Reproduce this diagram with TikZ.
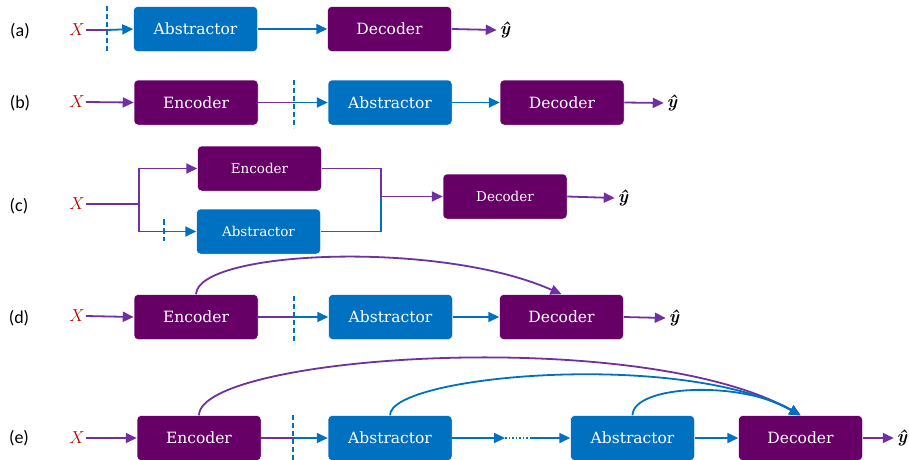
\documentclass[tikz,border=0pt]{standalone}
\usepackage{fontspec}
\usetikzlibrary{arrows.meta}
\newfontfamily\lblfont{Carlito}
\newfontfamily\boxfont{DejaVu Serif}
\definecolor{cblue}{HTML}{0070C0}
\definecolor{cbox}{HTML}{660066}
\definecolor{cline}{HTML}{7030A0}
\definecolor{cred}{HTML}{C00000}
\newcommand{\yhatsym}{{\bfseries\itshape ŷ}}
\tikzset{
  boxbase/.style={rounded corners=4pt, minimum width=124pt, minimum height=45pt, inner sep=0pt, text=white, font=\boxfont\fontsize{15.5}{18}\selectfont, draw=white, line width=0.5pt},
  smallbox/.style={font=\boxfont\fontsize{13.5}{16}\selectfont},
  encbox/.style={boxbase, fill=cbox},
  absbox/.style={boxbase, fill=cblue},
  pline/.style={draw=cline, line width=1.8pt},
  bline/.style={draw=cblue, line width=1.8pt},
  parrow/.style={pline, -{Triangle[length=11pt,width=10pt]}},
  barrow/.style={bline, -{Triangle[length=11pt,width=10pt]}},
  cut/.style={draw=cblue, line width=1.6pt, dash pattern=on 5pt off 3pt},
  rowlbl/.style={font=\lblfont\fontsize{18}{20}\selectfont, inner sep=0pt},
  xin/.style={text=cred, font=\fontsize{17}{20}\selectfont, inner sep=1pt},
  yout/.style={font=\fontsize{18}{20}\selectfont, inner sep=3pt}
}
\begin{document}
\begin{tikzpicture}[x=1pt,y=-1pt]
\useasboundingbox (0,0) rectangle (909,459);
% row (a)
\node[rowlbl] (la) at (20,31) {(a)};
\node[xin] (xa) at (77,30) {$X$};
\node[absbox] (absa) at (195.5,29) {Abstractor};
\node[encbox] (deca) at (389.5,29) {Decoder};
\node[yout] (ya) at (505,30) {\yhatsym};
\coordinate (cuta) at (107,30);
\coordinate (cuta1) at (107,6);
\coordinate (cuta2) at (107,53);
\draw[cut] (cuta1) -- (cuta2);
\draw[pline] (xa.east) -- (cuta);
\draw[barrow] (cuta) -- (absa.west);
\draw[barrow] (absa.east) -- (deca.west);
\draw[parrow] (deca.east) -- (ya.west);
% row (b)
\node[rowlbl] (lb) at (20,103) {(b)};
\node[xin] (xb) at (77,102) {$X$};
\node[encbox] (encb) at (196,102.5) {Encoder};
\node[absbox] (absb) at (390,102.5) {Abstractor};
\node[encbox] (decb) at (562,102.5) {Decoder};
\node[yout] (yb) at (672,103) {\yhatsym};
\coordinate (cutb) at (294,102.5);
\coordinate (cutb1) at (294,80);
\coordinate (cutb2) at (294,128);
\draw[cut] (cutb1) -- (cutb2);
\draw[parrow] (xb.east) -- (encb.west);
\draw[pline] (encb.east) -- (cutb);
\draw[barrow] (cutb) -- (absb.west);
\draw[barrow] (absb.east) -- (decb.west);
\draw[parrow] (decb.east) -- (yb.west);
% row (c)
\node[rowlbl] (lc) at (19,206) {(c)};
\node[xin] (xc) at (77,204) {$X$};
\node[encbox, smallbox] (encc) at (259.5,168.5) {Encoder};
\node[absbox, smallbox] (absc) at (258.5,231.5) {Abstractor};
\node[encbox, smallbox] (decc) at (505,196.5) {Decoder};
\node[yout] (yc) at (623,198) {\yhatsym};
\coordinate (splitc) at (139,204);
\coordinate (tickc) at (164,231.5);
\coordinate (tickc1) at (164,219);
\coordinate (tickc2) at (164,241);
\coordinate (joinc) at (381,196.5);
\draw[pline] (xc.east) -- (splitc);
\draw[parrow] (splitc) |- (encc.west);
\draw[pline] (splitc) |- (tickc);
\draw[cut, dash pattern=on 6pt off 3pt] (tickc1) -- (tickc2);
\draw[barrow] (tickc) -- (absc.west);
\draw[pline] (encc.east) -| (joinc);
\draw[bline] (absc.east) -| (joinc);
\draw[parrow] (joinc) -- (decc.west);
\draw[parrow] (decc.east) -- (yc.west);
% row (d)
\node[rowlbl] (ld) at (19,318) {(d)};
\node[xin] (xd) at (77,316) {$X$};
\node[encbox] (encd) at (196,317) {Encoder};
\node[absbox] (absd) at (390.5,317) {Abstractor};
\node[encbox] (decd) at (561.5,317) {Decoder};
\node[yout] (yd) at (674,318) {\yhatsym};
\coordinate (cutd) at (294,317);
\coordinate (cutd1) at (294,296);
\coordinate (cutd2) at (294,344);
\draw[cut] (cutd1) -- (cutd2);
\draw[parrow] (xd.east) -- (encd.west);
\draw[pline] (encd.east) -- (cutd);
\draw[barrow] (cutd) -- (absd.west);
\draw[barrow] (absd.east) -- (decd.west);
\draw[parrow] (decd.east) -- (yd.west);
\draw[parrow] (encd.north) .. controls (198,250) and (440,240) .. (decd.north);
% row (e)
\node[rowlbl] (le) at (19,438) {(e)};
\node[xin] (xe) at (77,438) {$X$};
\node[encbox] (ence) at (199,438) {Encoder};
\node[absbox] (abse1) at (390,438) {Abstractor};
\node[absbox] (abse2) at (632.5,438) {Abstractor};
\node[encbox] (dece) at (800.5,438) {Decoder};
\node[yout] (ye) at (902,438) {\yhatsym};
\coordinate (cute) at (293,438);
\coordinate (cute1) at (293,415);
\coordinate (cute2) at (293,460);
\coordinate (dotsA) at (505,438);
\coordinate (dotsB) at (531,438);
\draw[cut] (cute1) -- (cute2);
\draw[parrow] (xe.east) -- (ence.west);
\draw[pline] (ence.east) -- (cute);
\draw[barrow] (cute) -- (abse1.west);
\draw[barrow] (abse1.east) -- (dotsA);
\draw[draw=cblue, line width=1.8pt, dash pattern=on 1.5pt off 2pt] (dotsA) -- (dotsB);
\draw[barrow] (dotsB) -- (abse2.west);
\draw[barrow] (abse2.east) -- (dece.west);
\draw[parrow] (dece.east) -- (ye.west);
\draw[parrow] (ence.north) .. controls (200,355) and (640,325) .. (dece.north);
\draw[barrow] (abse1.north) .. controls (390,375) and (680,350) .. (dece.north);
\draw[barrow] (abse2.north) .. controls (633,385) and (740,380) .. (dece.north);
\end{tikzpicture}
\end{document}
